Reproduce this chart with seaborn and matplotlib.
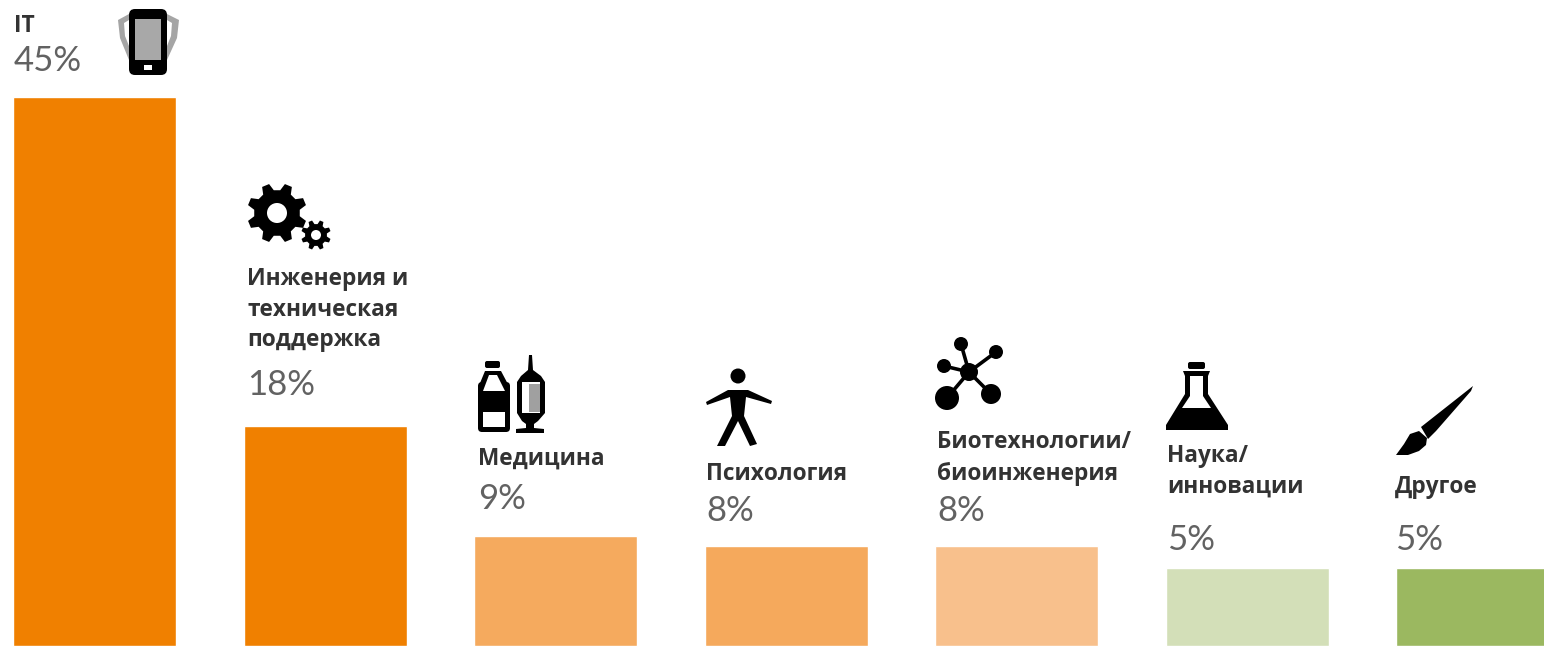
import numpy as np
import pandas as pd
import matplotlib
matplotlib.use('Agg')
import matplotlib.pyplot as plt
import seaborn as sns
from matplotlib.patches import Circle, Polygon, Rectangle, FancyBboxPatch
from matplotlib.transforms import Affine2D

W, H = 1544, 649

# данные
categories = ['IT', 'Инженерия и\nтехническая\nподдержка', 'Медицина', 'Психология',
              'Биотехнологии/\nбиоинженерия', 'Наука/\nинновации', 'Другое']
percent_labels = ['45%', '18%', '9%', '8%', '8%', '5%', '5%']
bar_heights = [45, 18, 9, 8.2, 8.2, 6.4, 6.4]  # высота столбцов на картинке
bar_colors = ['#F08000', '#F08000', '#F5AA5E', '#F5A95C', '#F8C08C', '#D3DFB8', '#9BB860']

# базовые линии подписей (пиксели сверху)
label_left = [14, 247, 478, 706, 937, 1167, 1395]
label_base = [[32], [285, 316, 346], [465], [480], [448, 480], [462, 493], [493]]
pct_base = [71, 395, 509, 521, 521, 550, 550]

sns.set_theme(style='white')
plt.rcParams['font.family'] = ['Open Sans', 'DejaVu Sans']

df = pd.DataFrame({'category': categories, 'height': bar_heights})

fig = plt.figure(figsize=(W / 100, H / 100), dpi=100)
ax = fig.add_axes([0, 0, 1, 1])
sns.barplot(data=df, x='category', y='height', hue='category', palette=bar_colors,
            width=0.707, saturation=1, legend=False, ax=ax)
ax.set_xlim(-0.41, 6.288)
ax.set_ylim(-3 / 12.2, 646 / 12.2)
ax.axis('off')

# пиксели от левого верхнего угла
px = Affine2D().scale(1, -1).translate(0, H)


def add(patch):
    patch.set_transform(px)
    patch.set_clip_on(False)
    ax.add_artist(patch)


def put_text(x, y, s, **kw):
    ax.text(x, y, s, transform=px, va='baseline', ha='left', clip_on=False, **kw)


for i, cat in enumerate(categories):
    for line_text, base in zip(cat.split('\n'), label_base[i]):
        put_text(label_left[i], base, line_text, fontsize=16.3, fontweight='bold', color='#333333')
    put_text(label_left[i], pct_base[i], percent_labels[i], fontsize=25,
             family=['Lato', 'DejaVu Sans'], color='#626262')


def gear(cx, cy, r_out, r_in, hole, teeth=8):
    pts = []
    step = 2 * np.pi / teeth
    for k in range(teeth):
        a = step * k + step / 2
        for da, r in [(-0.32, r_in), (-0.16, r_out), (0.16, r_out), (0.32, r_in)]:
            pts.append((cx + r * np.cos(a + da * step), cy + r * np.sin(a + da * step)))
    add(Polygon(pts, closed=True, fc='black', ec='none', joinstyle='round'))
    add(Circle((cx, cy), hole, fc='white', ec='none'))


def line(pts, lw, color='black'):
    xs, ys = zip(*pts)
    ax.plot(xs, ys, color=color, lw=lw, transform=px, clip_on=False, solid_capstyle='round')


# телефон
add(Polygon([(129, 14), (118, 20), (120, 38), (129, 60)], fc='#a5a5a5', ec='none'))
add(Polygon([(167, 14), (179, 20), (177, 38), (167, 60)], fc='#a5a5a5', ec='none'))
add(Polygon([(129, 20), (124, 23), (125, 36), (129, 46)], fc='white', ec='none'))
add(Polygon([(167, 20), (172, 23), (171, 36), (167, 46)], fc='white', ec='none'))
add(FancyBboxPatch((133, 13), 30, 58, boxstyle='round,pad=4,rounding_size=6', fc='black', ec='none'))
add(Rectangle((135, 19), 26, 41, fc='#a8a8a8', ec='none'))
add(Rectangle((144, 65), 8, 5, fc='white', ec='none'))

# шестерёнки
gear(277, 213, 30, 23, 10)
gear(316, 235, 15, 11, 5)

# бутылка
add(FancyBboxPatch((486, 362), 13, 5, boxstyle='round,pad=1,rounding_size=2', fc='black', ec='none'))
add(FancyBboxPatch((481, 385), 26, 44, boxstyle='round,pad=3,rounding_size=4', fc='black', ec='none'))
add(Polygon([(485, 371), (501, 371), (510, 388), (478, 388)], fc='black', ec='none'))
add(Polygon([(489, 375), (497, 375), (505, 391), (483, 391)], fc='white', ec='none'))
add(Rectangle((483, 412), 22, 15, fc='white', ec='none'))
# шприц
add(Polygon([(529, 355), (532, 355), (533, 370), (541, 376), (545, 382), (545, 413), (538, 421),
             (534, 424), (534, 428), (544, 429), (544, 433), (516, 433), (516, 429), (526, 428),
             (526, 424), (522, 421), (517, 413), (517, 382), (521, 376), (528, 370)],
            fc='black', ec='none'))
add(Rectangle((522, 382), 18, 31, fc='white', ec='none'))
add(Rectangle((529, 384), 11, 28, fc='#a0a0a0', ec='none'))

# человек
add(Circle((738, 376), 7.5, fc='black', ec='none'))
add(Polygon([(706, 402), (728, 390), (748, 390), (772, 401), (771, 404), (746, 397), (744, 416),
             (757, 444), (750, 446), (738, 421), (725, 446), (717, 446), (732, 416), (730, 397),
             (707, 405)], fc='black', ec='none'))

# молекула
mol_c = (969, 372)
for node, r in [((961, 344), 7), ((996, 352), 7), ((944, 366), 7), ((947, 398), 12), ((991, 394), 10)]:
    line([mol_c, node], 2.6)
    add(Circle(node, r, fc='black', ec='none'))
add(Circle(mol_c, 9, fc='black', ec='none'))

# колба
add(FancyBboxPatch((1189, 363), 15, 5, boxstyle='round,pad=1,rounding_size=2', fc='black', ec='none'))
add(Polygon([(1183, 371), (1210, 371), (1208, 376), (1208, 394), (1228, 425), (1228, 430),
             (1166, 430), (1166, 425), (1185, 394), (1185, 376)], fc='black', ec='none'))
add(Polygon([(1190, 376), (1203, 376), (1203, 396), (1211, 408), (1182, 408), (1190, 396)],
            fc='white', ec='none'))

# кисть
add(Polygon([(1473, 386), (1421, 427), (1428, 439), (1436, 431), (1471, 391)], fc='black', ec='none'))
add(Polygon([(1419, 431), (1410, 434), (1404, 444), (1396, 455), (1408, 455), (1419, 451), (1426, 445), (1427, 438)],
            fc='black', ec='none'))

fig.savefig('out.png', dpi=100, facecolor='white')
